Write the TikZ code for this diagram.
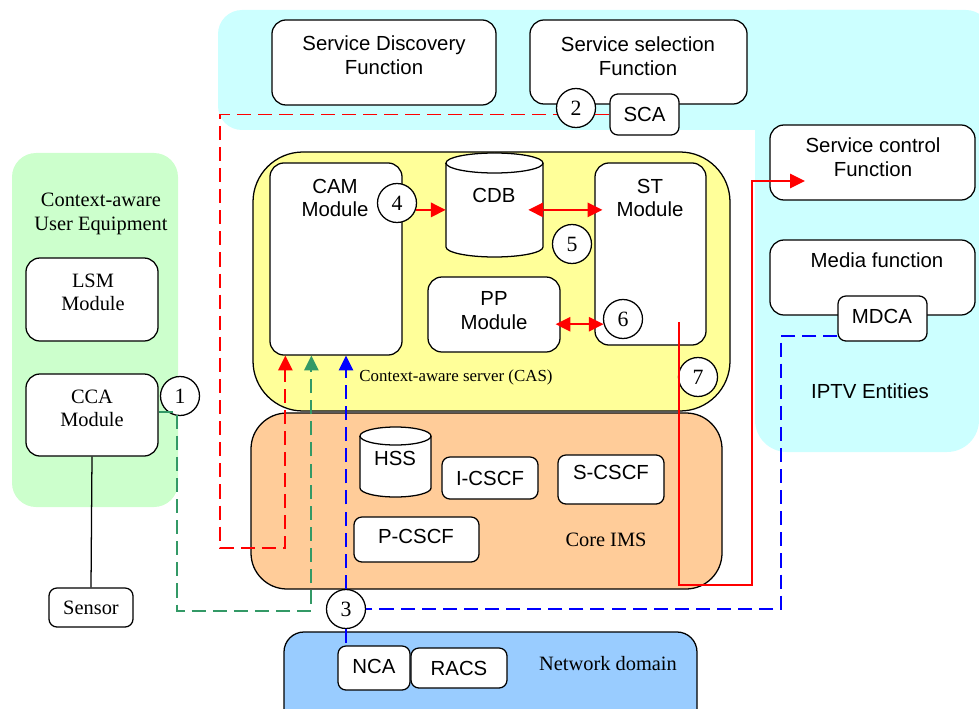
\documentclass[tikz,border=0pt]{standalone}
\usepackage{fontspec}
\setmainfont{Liberation Serif}
\newfontfamily\arialfont{Liberation Sans}
\usetikzlibrary{arrows.meta,calc}

\definecolor{iptvcyan}{HTML}{CCFFFF}
\definecolor{uegreen}{HTML}{CCFFCC}
\definecolor{casyellow}{HTML}{FFFF99}
\definecolor{imsorange}{HTML}{FFCC99}
\definecolor{netblue}{HTML}{99CCFF}
\definecolor{pathgreen}{HTML}{339966}

\begin{document}
\begin{tikzpicture}[x=0.025cm,y=-0.025cm,
    >={Triangle[length=0.37cm,width=0.36cm]},
    fbox/.style={rectangle, draw, fill=white, line width=0.9pt, rounded corners=0.35cm},
    sbox/.style={fbox, rounded corners=0.2cm},
    num/.style={circle, draw, fill=white, line width=0.9pt, minimum size=0.975cm,
                inner sep=0pt, font=\fontsize{15.5}{15.5}\selectfont},
    sf/.style={font=\arialfont\fontsize{14.5}{17}\selectfont, align=center},
    rm/.style={font=\fontsize{14.5}{16.5}\selectfont, align=center},
    redline/.style={red, line width=1pt},
    reddash/.style={red, line width=1.3pt, dash pattern=on 10pt off 5pt},
    bluedash/.style={blue, line width=1.4pt, dash pattern=on 10pt off 5pt},
    greendash/.style={pathgreen, line width=1.3pt, dash pattern=on 10pt off 5pt}]

    \clip (0,0) rectangle (979,709);
    \useasboundingbox (0,0) rectangle (979,709);

    % domains
    \fill[iptvcyan, rounded corners=0.6cm] (218,10) rectangle (990,130);
    \fill[iptvcyan, rounded corners=0.8cm] (755,10) rectangle (979,452);
    \fill[uegreen, rounded corners=0.6cm] (12,153) rectangle (178,507);
    \draw[fill=casyellow, line width=0.9pt, rounded corners=1.25cm] (253,152) rectangle (730,411);
    \draw[fill=imsorange, line width=0.9pt, rounded corners=0.9cm] (251,413) rectangle (722,589);
    \draw[fill=netblue, line width=0.9pt, rounded corners=0.5cm] (284,632) rectangle (697,740);

    \node[sf] (iptvtxt) at (870,391) {IPTV Entities};
    \node[rm] (uetxt) at (101,214) {Context-aware\\User Equipment};
    \node[rm, font=\fontsize{12}{14}\selectfont] (castxt) at (456,377) {Context-aware server (CAS)};
    \node[rm] (imstxt) at (606,540) {Core IMS};
    \node[rm] (nettxt) at (608,664) {Network domain};

    % IPTV entities
    \node[fbox,
          minimum width = 5.6cm,
          minimum height = 2.125cm
          ] (sdf) at (384,62.5) {};
    \node[sf] (sdftxt) at (384,55.5) {Service Discovery\\Function};

    \node[fbox,
          minimum width = 5.425cm,
          minimum height = 2.1cm
          ] (ssf) at (638.5,62) {};
    \node[sf] (ssftxt) at (638,56) {Service selection\\Function};

    \node[sbox,
          minimum width = 1.725cm,
          minimum height = 1.025cm
          ] (sca) at (644.5,114.5) {};
    \node[sf] (scatxt) at (sca.center) {SCA};

    \node[fbox,
          minimum width = 5.125cm,
          minimum height = 1.875cm
          ] (scf) at (872.5,162.5) {};
    \node[sf] (scftxt) at (873,157) {Service control\\Function};

    \node[fbox,
          minimum width = 5.125cm,
          minimum height = 1.875cm
          ] (mf) at (872.5,277.5) {};
    \node[sf] (mftxt) at (877,260) {Media function};

    \node[sbox,
          minimum width = 2.225cm,
          minimum height = 1.125cm
          ] (mdca) at (882.5,318.5) {};
    \node[sf] (mdcatxt) at (882,316) {MDCA};

    % user equipment
    \node[fbox,
          minimum width = 3.3cm,
          minimum height = 2.075cm
          ] (lsm) at (92,299.5) {};
    \node[rm] (lsmtxt) at (93,292) {LSM\\Module};

    \node[fbox,
          minimum width = 3.3cm,
          minimum height = 2.05cm
          ] (cca) at (92,415) {};
    \node[rm] (ccatxt) at (92,408) {CCA\\Module};

    \node[sbox,
          minimum width = 2.1cm,
          minimum height = 0.975cm
          ] (sensor) at (91,607.5) {};
    \node[rm] (sensortxt) at (sensor.center) {Sensor};

    \draw[line width=0.9pt] (cca.south) -- (sensor.north);

    % CAS
    \node[fbox,
          minimum width = 3.3cm,
          minimum height = 4.8cm
          ] (cam) at (336,259) {};
    \node[sf] (camtxt) at (335,198) {CAM\\Module};

    \node[fbox,
          minimum width = 2.775cm,
          minimum height = 4.55cm
          ] (st) at (650.5,254) {};
    \node[sf] (sttxt) at (650,198) {ST\\Module};

    \node[fbox,
          minimum width = 3.3cm,
          minimum height = 1.875cm
          ] (pp) at (494,314.5) {};
    \node[sf] (pptxt) at (494,311) {PP\\Module};

    \node[minimum width = 2.425cm,
          minimum height = 2.55cm
          ] (cdb) at (494.5,206) {};
    \draw[fill=white, line width=0.9pt] (446,163) -- (446,247)
        arc[start angle=180, end angle=360, x radius=1.2125cm, y radius=0.25cm]
        -- (543,163)
        arc[start angle=0, end angle=180, x radius=1.2125cm, y radius=0.25cm] -- cycle;
    \draw[line width=0.9pt] (446,163)
        arc[start angle=180, end angle=360, x radius=1.2125cm, y radius=0.25cm];
    \node[sf] (cdbtxt) at (494,195) {CDB};

    % core IMS
    \node[minimum width = 1.775cm,
          minimum height = 1.675cm
          ] (hss) at (395.5,461.5) {};
    \draw[fill=white, line width=0.9pt] (360,436) -- (360,488)
        arc[start angle=180, end angle=360, x radius=0.8875cm, y radius=0.225cm]
        -- (431,436)
        arc[start angle=0, end angle=180, x radius=0.8875cm, y radius=0.225cm] -- cycle;
    \draw[line width=0.9pt] (360,436)
        arc[start angle=180, end angle=360, x radius=0.8875cm, y radius=0.225cm];
    \node[sf] (hsstxt) at (395,458) {HSS};

    \node[sbox,
          minimum width = 2.4cm,
          minimum height = 1.05cm
          ] (icscf) at (490,478) {};
    \node[sf] (icscftxt) at (icscf.center) {I-CSCF};

    \node[sbox,
          minimum width = 2.65cm,
          minimum height = 1.225cm
          ] (scscf) at (611,479.5) {};
    \node[sf] (scscftxt) at (611,472) {S-CSCF};

    \node[sbox,
          minimum width = 3.125cm,
          minimum height = 1.125cm
          ] (pcscf) at (416.5,539.5) {};
    \node[sf] (pcscftxt) at (416,536) {P-CSCF};

    % network domain
    \node[sbox,
          minimum width = 1.8cm,
          minimum height = 1.1cm
          ] (nca) at (374,668) {};
    \node[sf] (ncatxt) at (374,666) {NCA};

    \node[sbox,
          minimum width = 2.4cm,
          minimum height = 1.0cm
          ] (racs) at (459,668) {};
    \node[sf] (racstxt) at (racs.center) {RACS};

    % flows
    \coordinate (rdturn) at (220,548);
    \draw[reddash,->] (sca.west) -| (rdturn) -| ([xshift=0.4cm]cam.south west);

    \node[num] (c1) at (180,396) {1};
    \node[num] (c2) at (576,108) {2};
    \node[num] (c3) at (346,609) {3};
    \node[num] (c4) at (397,203) {4};
    \node[num] (c5) at (572,244) {5};
    \node[num] (c6) at (623,319) {6};
    \node[num] (c7) at (698,377) {7};

    \coordinate (bturn) at (781,609);
    \draw[bluedash] ([yshift=0.15cm]mdca.south west) -| (bturn) -- (c3.east);
    \draw[bluedash,->] (c3.north) -- (c3.north |- cam.south);
    \draw[bluedash] (c3.south) -- (c3.south |- nca.north);

    \coordinate (stout) at (679,322);
    \coordinate (rturn) at (752,585);
    \coordinate (scfin) at (805,181);
    \draw[redline,->] (stout) |- (rturn) |- (scfin);

    \coordinate (gturn) at (177,611);
    \draw[greendash,->] ($(cca.east)+(0,-3)$) -| (gturn) -| ([xshift=1.05cm]cam.south west);

    \draw[redline, line width=1.3pt,->] (c4.-20) -- (cdb.west |- c4.-20);
    \draw[redline, line width=1.3pt,<->] ($(cdb.east |- c4.-20)+(-15,0)$) -- ($(st.west |- c4.-20)+(8,0)$);
    \draw[redline, line width=1.3pt,<->] ($(pp.east |- c6.195)+(-5,0)$) -- (c6.195);

\end{tikzpicture}
\end{document}
